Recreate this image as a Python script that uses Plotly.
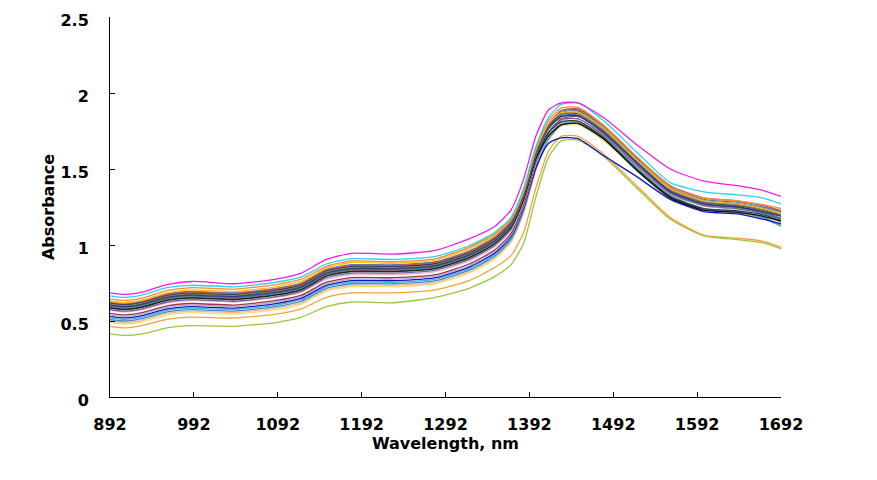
import plotly.graph_objects as go

wavelength = [892, 910, 930, 960, 990, 1040, 1090, 1120, 1150, 1180, 1230, 1280, 1320, 1350,
              1370, 1385, 1400, 1415, 1430, 1450, 1480, 1520, 1560, 1600, 1640, 1670, 1692]

x_tick_values = [892, 992, 1092, 1192, 1292, 1392, 1492, 1592, 1692]
y_tick_values = [0, 0.5, 1, 1.5, 2, 2.5]
y_tick_labels = ["0", "0.5", "1", "1.5", "2", "2.5"]

s_magenta = [0.685, 0.675, 0.690, 0.740, 0.760, 0.745, 0.775, 0.815, 0.905, 0.945, 0.940, 0.965, 1.040, 1.120,
             1.230, 1.430, 1.720, 1.890, 1.935, 1.935, 1.840, 1.660, 1.500, 1.420, 1.390, 1.360, 1.320]
s_cyan = [0.665, 0.655, 0.670, 0.720, 0.735, 0.725, 0.755, 0.790, 0.875, 0.910, 0.905, 0.925, 0.995, 1.080,
          1.180, 1.370, 1.650, 1.840, 1.925, 1.935, 1.820, 1.610, 1.410, 1.350, 1.330, 1.310, 1.270]
s_orange1 = [0.645, 0.635, 0.650, 0.700, 0.720, 0.710, 0.740, 0.775, 0.860, 0.895, 0.890, 0.910, 0.985, 1.070,
             1.170, 1.360, 1.640, 1.820, 1.900, 1.905, 1.790, 1.580, 1.380, 1.310, 1.290, 1.265, 1.240]
s_yellow1 = [0.630, 0.620, 0.635, 0.685, 0.705, 0.695, 0.725, 0.760, 0.850, 0.885, 0.880, 0.900, 0.975, 1.060,
             1.165, 1.350, 1.630, 1.800, 1.870, 1.875, 1.770, 1.560, 1.370, 1.290, 1.270, 1.240, 1.210]
s_brownred = [0.625, 0.615, 0.630, 0.675, 0.690, 0.680, 0.710, 0.745, 0.835, 0.865, 0.865, 0.885, 0.955, 1.045,
              1.155, 1.345, 1.625, 1.795, 1.885, 1.895, 1.790, 1.580, 1.390, 1.310, 1.290, 1.260, 1.225]
s_steelblue = [0.630, 0.620, 0.635, 0.680, 0.695, 0.685, 0.715, 0.750, 0.840, 0.870, 0.870, 0.890, 0.960, 1.050,
               1.160, 1.350, 1.630, 1.800, 1.880, 1.890, 1.780, 1.570, 1.380, 1.300, 1.280, 1.250, 1.220]
s_navy1 = [0.620, 0.610, 0.625, 0.670, 0.685, 0.675, 0.705, 0.740, 0.830, 0.860, 0.860, 0.880, 0.950, 1.040,
           1.150, 1.340, 1.620, 1.790, 1.870, 1.880, 1.770, 1.570, 1.370, 1.290, 1.270, 1.240, 1.210]
s_olive = [0.615, 0.605, 0.620, 0.665, 0.680, 0.670, 0.700, 0.735, 0.825, 0.855, 0.855, 0.875, 0.945, 1.035,
           1.145, 1.335, 1.615, 1.785, 1.865, 1.870, 1.760, 1.560, 1.365, 1.285, 1.265, 1.235, 1.200]
s_darkslate = [0.610, 0.600, 0.615, 0.660, 0.675, 0.665, 0.695, 0.730, 0.820, 0.850, 0.850, 0.870, 0.940, 1.030,
               1.140, 1.330, 1.610, 1.780, 1.860, 1.865, 1.755, 1.555, 1.360, 1.280, 1.260, 1.230, 1.195]
s_navy2 = [0.605, 0.595, 0.610, 0.655, 0.670, 0.660, 0.690, 0.725, 0.815, 0.845, 0.845, 0.865, 0.935, 1.025,
           1.135, 1.325, 1.605, 1.770, 1.845, 1.850, 1.740, 1.540, 1.350, 1.270, 1.250, 1.220, 1.190]
s_teal = [0.600, 0.590, 0.605, 0.650, 0.665, 0.655, 0.685, 0.720, 0.810, 0.840, 0.840, 0.860, 0.930, 1.020,
          1.130, 1.320, 1.600, 1.770, 1.850, 1.855, 1.745, 1.545, 1.355, 1.270, 1.250, 1.215, 1.175]
s_gray = [0.595, 0.585, 0.600, 0.645, 0.660, 0.650, 0.680, 0.715, 0.805, 0.835, 0.835, 0.855, 0.925, 1.015,
          1.125, 1.315, 1.595, 1.765, 1.845, 1.850, 1.740, 1.540, 1.350, 1.265, 1.245, 1.215, 1.175]
s_black = [0.590, 0.580, 0.595, 0.640, 0.655, 0.645, 0.675, 0.710, 0.800, 0.830, 0.830, 0.850, 0.920, 1.010,
           1.120, 1.300, 1.570, 1.720, 1.790, 1.800, 1.700, 1.490, 1.310, 1.230, 1.215, 1.190, 1.155]
s_darkgreen = [0.585, 0.575, 0.590, 0.635, 0.650, 0.640, 0.670, 0.705, 0.795, 0.825, 0.825, 0.845, 0.915, 1.005,
               1.115, 1.300, 1.580, 1.740, 1.810, 1.815, 1.710, 1.500, 1.320, 1.240, 1.225, 1.200, 1.160]
s_purple = [0.575, 0.565, 0.580, 0.625, 0.640, 0.630, 0.660, 0.695, 0.785, 0.815, 0.815, 0.835, 0.905, 0.995,
            1.105, 1.295, 1.575, 1.745, 1.825, 1.830, 1.725, 1.525, 1.340, 1.260, 1.240, 1.210, 1.170]
s_pink = [0.570, 0.560, 0.575, 0.620, 0.635, 0.625, 0.655, 0.690, 0.775, 0.805, 0.805, 0.825, 0.895, 0.985,
          1.095, 1.285, 1.565, 1.740, 1.820, 1.830, 1.730, 1.530, 1.345, 1.260, 1.240, 1.210, 1.165]
s_maroon = [0.550, 0.540, 0.555, 0.600, 0.615, 0.605, 0.635, 0.670, 0.755, 0.785, 0.785, 0.805, 0.875, 0.965,
            1.075, 1.265, 1.550, 1.740, 1.830, 1.845, 1.750, 1.560, 1.370, 1.280, 1.260, 1.230, 1.190]
s_lilac = [0.540, 0.530, 0.545, 0.590, 0.605, 0.595, 0.625, 0.660, 0.745, 0.775, 0.775, 0.795, 0.865, 0.955,
           1.065, 1.255, 1.540, 1.720, 1.805, 1.815, 1.720, 1.520, 1.335, 1.255, 1.235, 1.205, 1.160]
s_darkblue = [0.530, 0.520, 0.535, 0.580, 0.595, 0.585, 0.615, 0.650, 0.735, 0.765, 0.765, 0.785, 0.855, 0.945,
              1.055, 1.240, 1.510, 1.670, 1.705, 1.700, 1.590, 1.450, 1.300, 1.220, 1.205, 1.170, 1.140]
s_lightblue = [0.520, 0.510, 0.525, 0.570, 0.585, 0.575, 0.605, 0.640, 0.725, 0.755, 0.755, 0.775, 0.845, 0.935,
               1.045, 1.235, 1.520, 1.710, 1.800, 1.810, 1.710, 1.510, 1.325, 1.240, 1.220, 1.185, 1.130]
s_blue = [0.510, 0.500, 0.515, 0.560, 0.575, 0.565, 0.595, 0.630, 0.715, 0.745, 0.745, 0.765, 0.835, 0.925,
          1.035, 1.225, 1.510, 1.700, 1.790, 1.800, 1.700, 1.500, 1.315, 1.235, 1.215, 1.180, 1.125]
s_peach = [0.500, 0.490, 0.505, 0.550, 0.565, 0.555, 0.585, 0.620, 0.705, 0.735, 0.735, 0.755, 0.825, 0.915,
           1.025, 1.215, 1.500, 1.700, 1.790, 1.800, 1.700, 1.505, 1.320, 1.240, 1.220, 1.185, 1.130]
s_paleyellow = [0.490, 0.480, 0.495, 0.540, 0.555, 0.545, 0.575, 0.610, 0.695, 0.725, 0.725, 0.745, 0.815, 0.905,
                1.015, 1.205, 1.490, 1.690, 1.780, 1.790, 1.690, 1.495, 1.310, 1.230, 1.210, 1.175, 1.120]
s_orange2 = [0.465, 0.455, 0.470, 0.510, 0.525, 0.520, 0.545, 0.580, 0.655, 0.685, 0.685, 0.705, 0.765, 0.850,
             0.930, 1.080, 1.380, 1.620, 1.715, 1.715, 1.600, 1.390, 1.180, 1.065, 1.045, 1.025, 0.985]
s_yellowgreen = [0.415, 0.405, 0.415, 0.455, 0.470, 0.465, 0.490, 0.525, 0.595, 0.625, 0.620, 0.655, 0.715, 0.790,
                 0.870, 1.010, 1.320, 1.580, 1.685, 1.690, 1.585, 1.375, 1.170, 1.060, 1.035, 1.015, 0.975]

series = [
    (s_yellowgreen, "#9BC53D"),
    (s_orange2, "#F2A23A"),
    (s_paleyellow, "#F7DC6F"),
    (s_peach, "#F5B890"),
    (s_blue, "#3C8DD0"),
    (s_lightblue, "#4BB4D6"),
    (s_darkblue, "#1414C8"),
    (s_lilac, "#B8A8D0"),
    (s_maroon, "#963A48"),
    (s_pink, "#E8B4C0"),
    (s_purple, "#7A5AA0"),
    (s_darkgreen, "#1F4A30"),
    (s_black, "#111111"),
    (s_gray, "#808080"),
    (s_teal, "#2E7F95"),
    (s_navy2, "#35357F"),
    (s_darkslate, "#3D4F6A"),
    (s_olive, "#948A54"),
    (s_navy1, "#23366E"),
    (s_steelblue, "#4F7FBA"),
    (s_brownred, "#C0504D"),
    (s_yellow1, "#FFC20E"),
    (s_orange1, "#F7893A"),
    (s_cyan, "#27D3EE"),
    (s_magenta, "#EE1BEE"),
]

fig = go.Figure()
for values, color in series:
    fig.add_trace(go.Scatter(x=wavelength, y=values, mode="lines",
                             line=dict(color=color, width=1.3, shape="spline", smoothing=0.6),
                             showlegend=False, hoverinfo="skip"))

font_main = dict(family="DejaVu Sans", size=16, color="black", weight="bold")

fig.update_layout(
    width=877, height=480,
    margin=dict(l=102, r=104, t=9, b=91),
    paper_bgcolor="white", plot_bgcolor="white",
    showlegend=False,
)
fig.update_xaxes(
    range=[892, 1692], tickvals=x_tick_values, ticktext=[str(v) for v in x_tick_values],
    ticks="inside", ticklen=5, tickcolor="black", tickwidth=1,
    showline=True, linecolor="black", linewidth=1, showgrid=False, zeroline=False,
    tickfont=font_main, ticklabelstandoff=13, automargin=False, ticklabeloverflow="allow",
    title=dict(text="Wavelength, nm", font=font_main, standoff=2),
)
fig.update_yaxes(
    range=[0, 2.5], tickvals=y_tick_values, ticktext=y_tick_labels,
    ticks="inside", ticklen=5, tickcolor="black", tickwidth=1,
    showline=True, linecolor="black", linewidth=1, showgrid=False, zeroline=False,
    tickfont=font_main, ticklabelstandoff=17, ticklabelshift=3, automargin=False, ticklabeloverflow="allow",
    title=dict(text="Absorbance", font=font_main, standoff=1),
)

fig.write_html("out.html")
